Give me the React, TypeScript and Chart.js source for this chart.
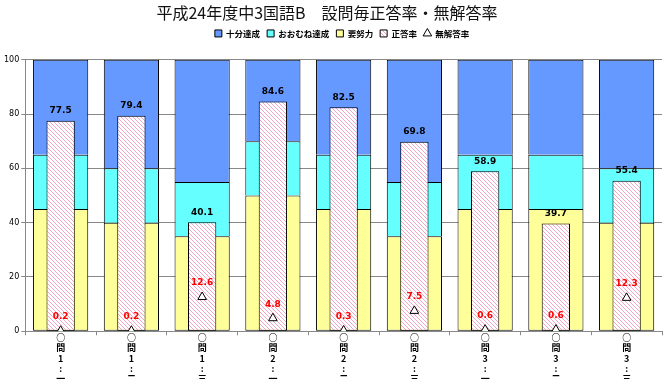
import React, { useEffect, useRef } from "react";
import { Chart, registerables } from "chart.js";

Chart.register(...registerables);

const categories: string[][] = [
  ["○", "問", "1", ":", "一"],
  ["○", "問", "1", ":", "二"],
  ["○", "問", "1", ":", "三"],
  ["○", "問", "2", ":", "一"],
  ["○", "問", "2", ":", "二"],
  ["○", "問", "2", ":", "三"],
  ["○", "問", "3", ":", "一"],
  ["○", "問", "3", ":", "二"],
  ["○", "問", "3", ":", "三"],
];
const needEffort = [45, 40, 35, 50, 45, 35, 45, 45, 40];
const mostlyAchieved = [20, 20, 20, 20, 20, 20, 20, 20, 20];
const fullyAchieved = [35, 40, 45, 30, 35, 45, 35, 35, 40];
const correctRate = [77.5, 79.4, 40.1, 84.6, 82.5, 69.8, 58.9, 39.7, 55.4];
const noAnswerRate = [0.2, 0.2, 12.6, 4.8, 0.3, 7.5, 0.6, 0.6, 12.3];
const yTicks = [0, 20, 40, 60, 80, 100];

const CJK = '"Noto Sans CJK JP", "Noto Sans", sans-serif';

function makeHatch(): CanvasPattern | string {
  const c = document.createElement("canvas");
  c.width = 4;
  c.height = 4;
  const g = c.getContext("2d");
  if (!g) return "#ffffff";
  g.fillStyle = "#ffffff";
  g.fillRect(0, 0, 4, 4);
  g.fillStyle = "#f4a4c4";
  for (let i = 0; i < 4; i++) g.fillRect(i, i, 1, 1);
  return g.createPattern(c, "repeat") || "#ffffff";
}

const labelPlugin = {
  id: "valueLabels",
  afterDatasetsDraw(chart: any) {
    const ctx = chart.ctx;
    ctx.save();
    ctx.font = 'bold 9px "DejaVu Sans", sans-serif';
    ctx.textAlign = "center";
    ctx.textBaseline = "middle";
    const barMeta = chart.getDatasetMeta(1);
    barMeta.data.forEach((el: any, i: number) => {
      ctx.fillStyle = "#000000";
      ctx.fillText(correctRate[i].toFixed(1), el.x, el.y - 10);
    });
    const lineMeta = chart.getDatasetMeta(0);
    lineMeta.data.forEach((el: any, i: number) => {
      ctx.fillStyle = "#ff0000";
      ctx.fillText(noAnswerRate[i].toFixed(1), el.x, el.y - 14);
    });
    ctx.restore();
  },
};

const layoutTweak = {
  id: "layoutTweak",
  beforeInit(chart: any) {
    const lg = chart.legend;
    if (lg) {
      const fit = lg.fit.bind(lg);
      lg.fit = function () {
        fit();
        this.height += 12;
      };
    }
  },
  afterLayout(chart: any) {
    if (chart.legend) {
      chart.legend.left += 10;
      chart.legend.right += 10;
    }
    if (chart.titleBlock) {
      chart.titleBlock.left -= 10;
    }
  },
};

export default function App() {
  const ref = useRef<HTMLCanvasElement | null>(null);

  useEffect(() => {
    if (!ref.current) return;
    const hatch = makeHatch();
    const barCommon = {
      borderColor: "#000000",
      borderWidth: 1,
      borderSkipped: false,
      grouped: false,
      categoryPercentage: 1,
      pointStyle: "rect",
    };
    const chart = new Chart(ref.current, {
      type: "bar",
      data: {
        labels: categories,
        datasets: [
          {
            type: "line",
            label: "無解答率",
            data: noAnswerRate,
            xAxisID: "x2",
            stack: "n",
            showLine: false,
            pointStyle: "triangle",
            pointRadius: 5,
            pointBackgroundColor: "#ffffff",
            pointBorderColor: "#000000",
            pointBorderWidth: 1,
            backgroundColor: "#ffffff",
            borderColor: "#000000",
            borderWidth: 1,
          } as any,
          {
            ...barCommon,
            label: "正答率",
            data: correctRate,
            xAxisID: "x2",
            stack: "c",
            backgroundColor: hatch as any,
            barPercentage: 0.4,
          } as any,
          {
            ...barCommon,
            label: "要努力",
            data: needEffort,
            xAxisID: "x",
            stack: "s",
            backgroundColor: "#ffff99",
            barPercentage: 0.78,
          } as any,
          {
            ...barCommon,
            label: "おおむね達成",
            data: mostlyAchieved,
            xAxisID: "x",
            stack: "s",
            backgroundColor: "#66ffff",
            borderSkipped: "bottom",
            barPercentage: 0.78,
          } as any,
          {
            ...barCommon,
            label: "十分達成",
            data: fullyAchieved,
            xAxisID: "x",
            stack: "s",
            backgroundColor: "#6699ff",
            borderSkipped: "bottom",
            barPercentage: 0.78,
          } as any,
        ],
      },
      options: {
        responsive: false,
        animation: false,
        devicePixelRatio: 1,
        layout: { padding: { left: 2, right: 9, top: 0, bottom: 9 } },
        plugins: {
          title: {
            display: true,
            text: "平成24年度中3国語B　設問毎正答率・無解答率",
            color: "#111111",
            font: { family: CJK, size: 16, weight: "normal" },
            padding: { top: 3, bottom: 0 },
          },
          legend: {
            display: true,
            reverse: true,
            labels: {
              usePointStyle: true,
              boxWidth: 7,
              boxHeight: 7,
              padding: 7,
              color: "#000000",
              font: { family: CJK, size: 8.5, weight: "bold" },
            },
          },
          tooltip: { enabled: false },
        },
        scales: {
          x: {
            type: "category",
            stacked: true,
            offset: true,
            grid: {
              display: true,
              drawOnChartArea: false,
              drawTicks: true,
              tickLength: 4,
              color: "#888888",
              offset: true,
            },
            border: { display: true, color: "#888888" },
            ticks: {
              autoSkip: false,
              maxRotation: 0,
              minRotation: 0,
              padding: -3,
              color: "#000000",
              font: { family: CJK, size: 9, lineHeight: 1.15, weight: "bold" },
            },
          },
          x2: {
            type: "category",
            display: false,
            offset: true,
            stacked: false,
          },
          y: {
            stacked: true,
            min: 0,
            max: 100,
            afterBuildTicks: (axis: any) => {
              axis.ticks = yTicks.map((v) => ({ value: v }));
            },
            grid: {
              color: "#888888",
              tickLength: 4,
              drawTicks: true,
            },
            border: { display: true, color: "#888888" },
            ticks: {
              padding: 2,
              color: "#000000",
              font: { family: '"DejaVu Sans", sans-serif', size: 8 },
            },
          },
        },
      },
      plugins: [layoutTweak, labelPlugin],
    });
    return () => chart.destroy();
  }, []);

  return (
    <div style={{ position: "absolute", left: 0, top: 0, width: 671, height: 390, background: "#ffffff" }}>
      <canvas ref={ref} width={671} height={390} style={{ width: 671, height: 390, display: "block" }} />
    </div>
  );
}
